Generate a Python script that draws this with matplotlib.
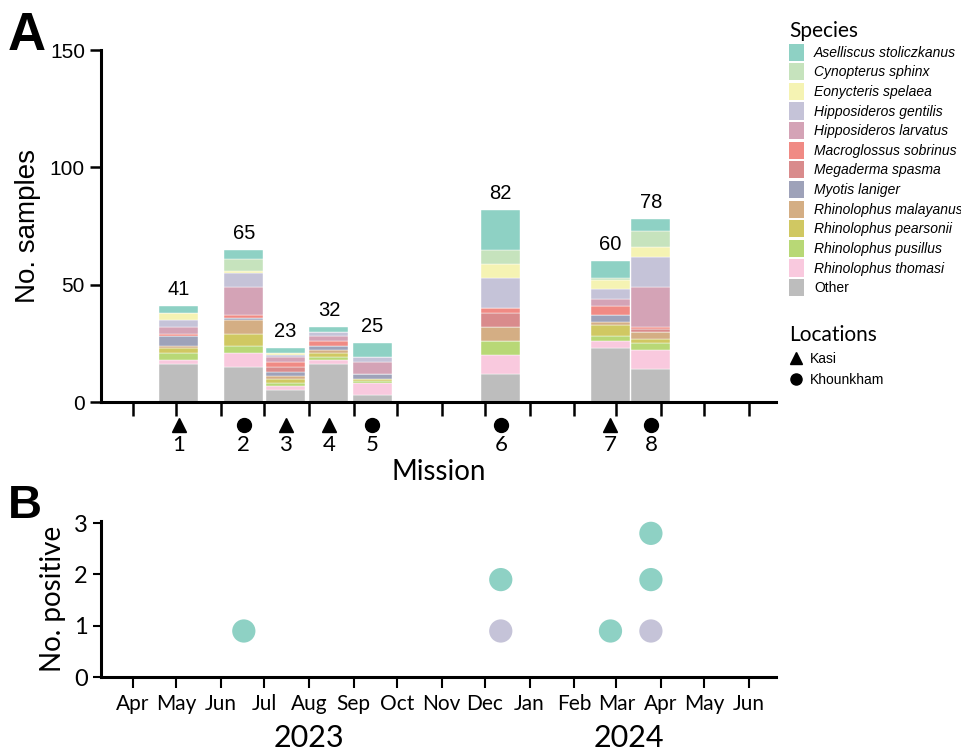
import datetime as dt
import matplotlib
matplotlib.use("Agg")
import matplotlib.pyplot as plt
import matplotlib.dates as mdates
from matplotlib.patches import Patch
from matplotlib.lines import Line2D
import numpy as np

# mission info
missions = [1, 2, 3, 4, 5, 6, 7, 8]
mission_dates = [dt.date(2023, 5, 3), dt.date(2023, 6, 17), dt.date(2023, 7, 16),
                 dt.date(2023, 8, 15), dt.date(2023, 9, 14), dt.date(2023, 12, 12),
                 dt.date(2024, 2, 26), dt.date(2024, 3, 25)]
locations = ["Kasi", "Khounkham", "Kasi", "Kasi", "Khounkham", "Khounkham", "Kasi", "Khounkham"]

# samples per species per mission (legend order)
aselliscus = [3, 4, 2, 2, 6, 17, 7, 5]
cynopterus = [0, 5, 0, 0, 0, 6, 1, 7]
eonycteris = [3, 1, 1, 0, 0, 6, 4, 4]
h_gentilis = [3, 6, 1, 2, 2, 13, 4, 13]
h_larvatus = [3, 12, 2, 2, 5, 0, 3, 17]
macroglossus = [1, 1, 2, 2, 0, 2, 4, 1]
megaderma = [0, 0, 2, 0, 0, 6, 0, 1]
myotis = [4, 1, 2, 2, 2, 0, 3, 0]
r_malayanus = [1, 6, 1, 1, 0, 6, 1, 3]
r_pearsonii = [2, 5, 2, 2, 1, 0, 5, 2]
r_pusillus = [3, 3, 1, 1, 1, 6, 2, 3]
r_thomasi = [2, 6, 2, 2, 5, 8, 3, 8]
other = [16, 15, 5, 16, 3, 12, 23, 14]

species_names = ["Aselliscus stoliczkanus", "Cynopterus sphinx", "Eonycteris spelaea",
                 "Hipposideros gentilis", "Hipposideros larvatus", "Macroglossus sobrinus",
                 "Megaderma spasma", "Myotis laniger", "Rhinolophus malayanus",
                 "Rhinolophus pearsonii", "Rhinolophus pusillus", "Rhinolophus thomasi", "Other"]
species_counts = [aselliscus, cynopterus, eonycteris, h_gentilis, h_larvatus, macroglossus,
                  megaderma, myotis, r_malayanus, r_pearsonii, r_pusillus, r_thomasi, other]
colors = ["#8ed1c4", "#c6e3bd", "#f5f3b3", "#c5c3d8", "#d4a3b6", "#f08a84", "#d98b8c",
          "#9ea2b9", "#d4ae84", "#d0c862", "#b8d876", "#f9c9de", "#bdbdbd"]

# positive samples (panel B)
pos_mission = [2, 6, 6, 7, 8, 8, 8]
pos_species = ["Aselliscus stoliczkanus", "Hipposideros gentilis", "Aselliscus stoliczkanus",
               "Aselliscus stoliczkanus", "Hipposideros gentilis", "Aselliscus stoliczkanus",
               "Aselliscus stoliczkanus"]
pos_y = [0.9, 0.9, 1.9, 0.9, 0.9, 1.9, 2.8]

calib = "Lato"
arial = "Liberation Sans"

fig = plt.figure(figsize=(9.61, 7.5), dpi=100)
axA = fig.add_axes([0.105, 0.464, 0.703, 0.469])
axB = fig.add_axes([0.105, 0.097, 0.703, 0.209])

xnum = mdates.date2num(mission_dates)
xlim = (mdates.date2num(dt.date(2023, 3, 10)), mdates.date2num(dt.date(2024, 6, 20)))

# panel A: stacked bars, Other at bottom
bottom = np.zeros(len(missions))
for name, vals, c in reversed(list(zip(species_names, species_counts, colors))):
    axA.bar(xnum, vals, width=27, bottom=bottom, color=c, edgecolor="white", linewidth=0.3)
    bottom += np.array(vals)
for x, t in zip(xnum, bottom):
    axA.text(x, t + 3, str(int(t)), ha="center", va="bottom", fontsize=14.5, family=arial)

axA.set_xlim(xlim)
axA.set_ylim(0, 150)
axA.set_yticks([0, 50, 100, 150])
axA.xaxis.set_major_locator(mdates.MonthLocator())
axA.tick_params(axis="x", length=10, width=1.8, labelbottom=False)
axA.tick_params(axis="y", length=8, width=1.8, labelsize=15)
for lb in axA.get_yticklabels():
    lb.set_family(arial)
axA.set_ylabel("No. samples", fontsize=20, family=arial, labelpad=6)
for s in ["top", "right"]:
    axA.spines[s].set_visible(False)
for s in ["left", "bottom"]:
    axA.spines[s].set_linewidth(2.2)

trans = axA.get_xaxis_transform()
for x, m, loc in zip(xnum, missions, locations):
    mk = "^" if loc == "Kasi" else "o"
    axA.plot(x, -0.065, marker=mk, color="black", markersize=10, transform=trans, clip_on=False)
    axA.text(x, -0.095, str(m), ha="center", va="top", fontsize=16, family=calib, transform=trans)
axA.text(0.5, -0.162, "Mission", ha="center", va="top", fontsize=20, family=calib,
         transform=axA.transAxes)

# panel B: dot plot of positives
col_of = dict(zip(species_names, colors))
px = [xnum[missions.index(m)] for m in pos_mission]
axB.scatter(px, pos_y, s=280, c=[col_of[s] for s in pos_species], edgecolors="none", zorder=3)
axB.set_xlim(xlim)
axB.set_ylim(0, 3.05)
axB.set_yticks([0, 1, 2, 3])
axB.xaxis.set_major_locator(mdates.MonthLocator())
axB.xaxis.set_major_formatter(mdates.DateFormatter("%b"))
axB.tick_params(axis="x", length=8, width=1.5, labelsize=15, pad=4)
axB.tick_params(axis="y", length=6, width=1.5, labelsize=17)
for lb in axB.get_xticklabels() + axB.get_yticklabels():
    lb.set_family(calib)
axB.set_ylabel("No. positive", fontsize=20, family=calib, labelpad=6)
for s in ["top", "right"]:
    axB.spines[s].set_visible(False)
for s in ["left", "bottom"]:
    axB.spines[s].set_linewidth(2.2)
axB.text(mdates.date2num(dt.date(2023, 8, 1)), -0.385, "2023", ha="center", va="center",
         fontsize=22, family=calib, transform=axB.get_xaxis_transform())
axB.text(mdates.date2num(dt.date(2024, 3, 10)), -0.385, "2024", ha="center", va="center",
         fontsize=22, family=calib, transform=axB.get_xaxis_transform())

# panel letters
fig.text(0.008, 0.985, "A", fontsize=38, fontweight="bold", family=arial, va="top")
fig.text(0.008, 0.355, "B", fontsize=34, fontweight="bold", family=arial, va="top")

# legends
sp_handles = [Patch(facecolor=c, edgecolor="none") for c in colors]
leg1 = fig.legend(sp_handles, species_names, loc="upper left", bbox_to_anchor=(0.821, 0.972),
                  frameon=False, title="Species", handlelength=1.1, handleheight=1.52,
                  labelspacing=0.18, handletextpad=0.7, borderpad=0, borderaxespad=0,
                  prop={"family": arial, "style": "italic", "size": 10},
                  title_fontproperties={"family": calib, "size": 15})
leg1._legend_box.align = "left"
leg1._legend_box._children[1].sep = 6
for t in leg1.get_texts():
    if t.get_text() == "Other":
        t.set_style("normal")

loc_handles = [Line2D([], [], marker="^", color="black", linestyle="none", markersize=8),
               Line2D([], [], marker="o", color="black", linestyle="none", markersize=8)]
leg2 = fig.legend(loc_handles, ["Kasi", "Khounkham"], loc="upper left",
                  bbox_to_anchor=(0.821, 0.567), frameon=False, title="Locations",
                  handlelength=1.0, handletextpad=0.5, labelspacing=0.5, borderpad=0,
                  borderaxespad=0, prop={"family": arial, "size": 10},
                  title_fontproperties={"family": calib, "size": 15})
leg2._legend_box.align = "left"

fig.savefig("out.png", dpi=100)
